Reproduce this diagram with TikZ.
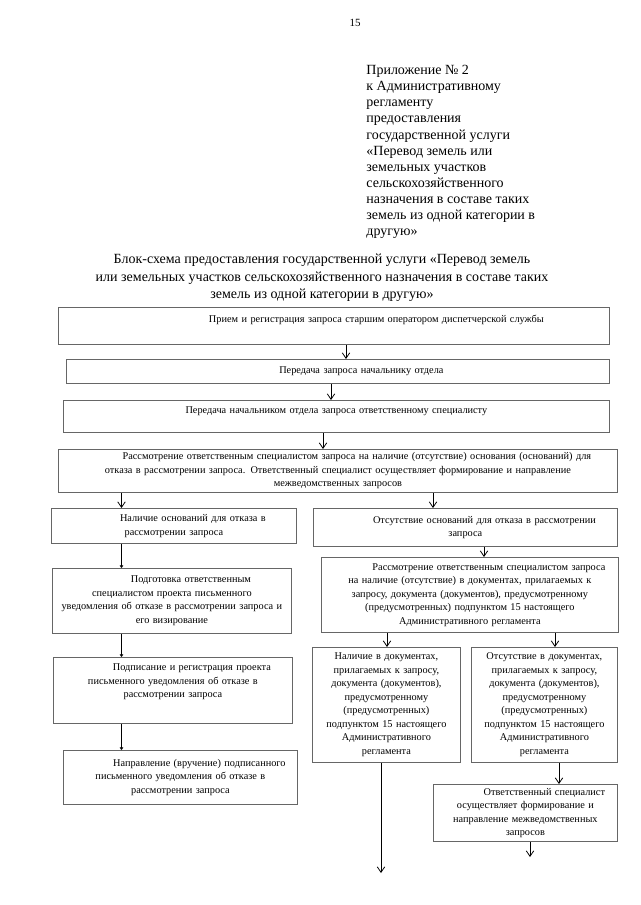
\documentclass[tikz,border=0pt]{standalone}
\usepackage{fontspec}
\setmainfont{Liberation Serif}
\usepackage{tikz}
\usetikzlibrary{arrows.meta}

\newcommand{\parind}{\hspace*{38pt}}

\begin{document}
\begin{tikzpicture}[x=1pt, y=-1pt, line width=0.8pt,
    >={Straight Barb[length=5.5pt,width=7.5pt]},
    stage/.style={draw=black!60, anchor=north west, align=center, inner xsep=3pt, inner ysep=2pt,
        font=\fontsize{10.3}{13.5}\selectfont},
    flow/.style={->},
    thinflow/.style={-{Straight Barb[length=2pt,width=3pt]}}]

    \path[use as bounding box, fill=white] (0,0) rectangle (640,905);

    % Header
    \node (pageno) at (355,23) {\fontsize{11}{13}\selectfont 15};
    \node (annex) [anchor=north west, inner sep=0pt, align=left, font=\fontsize{14}{16.1}\selectfont] at (366,65)
        {Приложение № 2\\к Административному\\регламенту\\предоставления\\государственной услуги\\«Перевод земель или\\земельных участков\\сельскохозяйственного\\назначения в составе таких\\земель из одной категории в\\другую»};
    \node (title) [align=center, font=\fontsize{14}{17.5}\selectfont] at (322,278)
        {Блок-схема предоставления государственной услуги «Перевод земель\\или земельных участков сельскохозяйственного назначения в составе таких\\земель из одной категории в другую»};

    % Define nodes
    \node (recv) [stage, text width=545pt, minimum height=37pt] at (58,307)
        {\hspace*{85pt}Прием и регистрация запроса старшим оператором диспетчерской службы\\ \mbox{}};
    \node (tohead) [stage, text width=537pt, minimum height=24pt] at (66,359)
        {\hspace*{47pt}Передача запроса начальнику отдела};
    \node (tospec) [stage, text width=540pt, minimum height=32pt] at (63,400)
        {Передача начальником отдела запроса ответственному специалисту\\ \mbox{}};
    \node (review) [stage, text width=553pt, minimum height=43pt] at (58,449)
        {\parind Рассмотрение ответственным специалистом запроса на наличие (отсутствие) основания (оснований) для\\
         отказа в рассмотрении запроса. Ответственный специалист осуществляет формирование и направление\\
         межведомственных запросов};
    \node (refusal) [stage, text width=239pt, minimum height=35pt] at (51,508)
        {\parind Наличие оснований для отказа в\\рассмотрении запроса};
    \node (norefusal) [stage, text width=298pt, minimum height=38pt] at (313,508)
        {\parind Отсутствие оснований для отказа в рассмотрении\\запроса};
    \node (draft) [stage, text width=233pt, minimum height=65pt] at (52,568)
        {\parind Подготовка ответственным\\специалистом проекта письменного\\уведомления об отказе в рассмотрении запроса и\\его визирование};
    \node (checkdocs) [stage, text width=291pt, minimum height=75pt] at (321,557)
        {\parind Рассмотрение ответственным специалистом запроса\\на наличие (отсутствие) в документах, прилагаемых к\\запросу, документа (документов), предусмотренному\\(предусмотренных) подпунктом 15 настоящего\\Административного регламента};
    \node (sign) [stage, text width=233pt, minimum height=66pt] at (53,657)
        {\parind Подписание и регистрация проекта\\письменного уведомления об отказе в\\рассмотрении запроса\\[6pt] \mbox{}};
    \node (deliver) [stage, text width=228pt, minimum height=54pt] at (63,750)
        {\parind Направление (вручение) подписанного\\письменного уведомления об отказе в\\рассмотрении запроса};
    \node (present) [stage, text width=142pt, minimum height=115pt] at (312,647)
        {Наличие в документах,\\прилагаемых к запросу,\\документа (документов),\\предусмотренному\\(предусмотренных)\\подпунктом 15 настоящего\\Административного\\регламента};
    \node (absent) [stage, text width=140pt, minimum height=115pt] at (471,647)
        {Отсутствие в документах,\\прилагаемых к запросу,\\документа (документов),\\предусмотренному\\(предусмотренных)\\подпунктом 15 настоящего\\Административного\\регламента};
    \node (interreq) [stage, text width=178pt, minimum height=57pt] at (433,784)
        {\parind Ответственный специалист\\осуществляет формирование и\\направление межведомственных\\запросов};

    % Columns of the connectors
    \coordinate (colA) at (346,0);
    \coordinate (colB) at (331,0);
    \coordinate (colC) at (323,0);
    \coordinate (lcol) at (121.5,0);
    \coordinate (colD) at (433,0);
    \coordinate (colE) at (484,0);
    \coordinate (colF) at (387,0);
    \coordinate (colG) at (555,0);
    \coordinate (colI) at (559,0);
    \coordinate (presentEnd) at (381,873);
    \coordinate (interEnd) at (530,857);

    % Connections
    \draw[flow] (recv.south -| colA) -- (tohead.north -| colA);
    \draw[flow] (tohead.south -| colB) -- (tospec.north -| colB);
    \draw[flow] (tospec.south -| colC) -- (review.north -| colC);
    \draw[flow] (review.south -| lcol) -- (refusal.north -| lcol);
    \draw[flow] (review.south -| colD) -- (norefusal.north -| colD);

    % Left branch
    \draw[thinflow] (refusal.south -| lcol) -- (draft.north -| lcol);
    \draw[thinflow] (draft.south -| lcol) -- (sign.north -| lcol);
    \draw[thinflow] (sign.south -| lcol) -- (deliver.north -| lcol);

    % Right branch
    \draw[flow] (norefusal.south -| colE) -- (checkdocs.north -| colE);
    \draw[flow] (checkdocs.south -| colF) -- (present.north -| colF);
    \draw[flow] (checkdocs.south -| colG) -- (absent.north -| colG);
    \draw[flow] (present.south -| presentEnd) -- (presentEnd);
    \draw[flow] (absent.south -| colI) -- (interreq.north -| colI);
    \draw[flow] (interreq.south -| interEnd) -- (interEnd);

\end{tikzpicture}
\end{document}
